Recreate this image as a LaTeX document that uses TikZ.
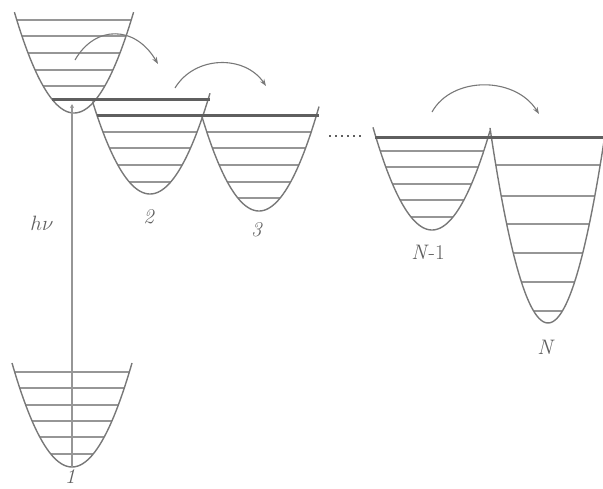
\documentclass[tikz,border=0pt]{standalone}
\usetikzlibrary{arrows.meta}
\definecolor{wellc}{RGB}{120,120,120}
\definecolor{lvlc}{RGB}{150,150,150}
\definecolor{thickc}{RGB}{95,95,95}
\definecolor{txtc}{RGB}{95,95,95}
\tikzset{
  wellline/.style={draw=wellc, line width=1.4pt},
  lvlline/.style={draw=lvlc, line width=1.1pt},
  thickline/.style={draw=thickc, line width=3pt},
  hoparrow/.style={draw=wellc, line width=1.1pt, -{Stealth[length=7pt,width=5pt]}},
  lbl/.style={text=txtc, font=\fontsize{21}{24}\selectfont, inner sep=0pt}
}
% \wellpar{x0}{y0}{a}{xleft}{xright}
\newcommand{\wellpar}[5]{%
  \draw[wellline] plot[domain=#4:#5, samples=60, smooth] (\x, {#2-#3*(\x-#1)*(\x-#1)});}
% \levels{x0}{y0}{a}{list}
\newcommand{\levels}[4]{%
  \foreach \yy in {#4} {%
    \pgfmathsetmacro\hw{sqrt((#2-\yy)/#3)}%
    \draw[lvlline] ({#1-\hw}, \yy) -- ({#1+\hw}, \yy);}}
\begin{document}
\begin{tikzpicture}[x=1pt, y=-1pt]
\useasboundingbox (0,0) rectangle (603,488);
\begin{scope}
\clip (0,0) rectangle (603,488);
% upper donor well
\levels{74}{113}{0.0284}{20,36,53,70,86}
\wellpar{74}{113}{0.0284}{14.4}{133.6}
% well 2
\levels{150}{194}{0.028}{132,148,165,182}
\wellpar{150}{194}{0.028}{92.5}{210}
% well 3
\levels{259}{211}{0.029}{132,148,165,182,198}
\wellpar{259}{211}{0.029}{202}{319}
% well N-1
\levels{432}{230}{0.0295}{151,167,184,200,217}
\wellpar{432}{230}{0.0295}{373}{490}
% well N
\levels{548}{323}{0.058}{165,196,224,253,282,311}
\wellpar{548}{323}{0.058}{490}{606}
% ground well
\levels{72}{467}{0.0289}{372,388,405,421,437,454}
\wellpar{72}{467}{0.0289}{12}{132}
% thick levels
\draw[thickline] (52,99) -- (210,99);
\draw[thickline] (97,115) -- (319,115);
\draw[thickline] (375,137) -- (603,137);
\end{scope}
% dotted continuation
\draw[draw=thickc, line width=1.6pt, dash pattern=on 2pt off 4pt] (329,136) -- (362,136);
% excitation
\coordinate (g) at (72,467);
\coordinate (e) at (72,104);
\draw[draw=lvlc, line width=1.1pt, -{Stealth[length=4pt,width=4pt]}] (g) -- (e);
% transfer arrows
\coordinate (a1s) at (75,60);   \coordinate (a1e) at (158,64);
\coordinate (a2s) at (175,88);  \coordinate (a2e) at (266,86);
\coordinate (a3s) at (432,112); \coordinate (a3e) at (539,114);
\draw[hoparrow] (a1s) .. controls (95,25) and (135,25) .. (a1e);
\draw[hoparrow] (a2s) .. controls (195,55) and (245,55) .. (a2e);
\draw[hoparrow] (a3s) .. controls (452,76) and (515,76) .. (a3e);
% labels
\node[lbl] (l1) at (70,477) {\textit{1}};
\node[lbl] (l2) at (149,217) {\textit{2}};
\node[lbl] (l3) at (257,230) {\textit{3}};
\node[lbl] (lN1) at (428,252) {\textit{N}-1};
\node[lbl] (lN) at (546,347) {\textit{N}};
\node[lbl] (lhv) at (42,223) {$h\nu$};
\end{tikzpicture}
\end{document}
